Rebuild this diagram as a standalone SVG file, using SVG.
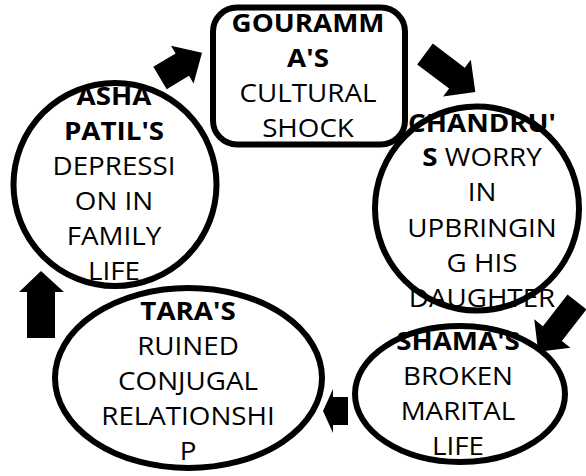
<svg xmlns="http://www.w3.org/2000/svg" width="586" height="476" viewBox="0 0 586 476">
<style>
.shape{fill:none;stroke:#000;stroke-width:6}
.t{font-family:"Open Sans","Liberation Sans",sans-serif;font-size:25px;fill:#000;text-anchor:middle}
.b{font-weight:bold}
.arr{fill:#000;stroke:none}
</style>
<rect width="586" height="476" fill="#fff"/>
<g id="gouramma">
<rect class="shape" x="213" y="7.5" width="192" height="137" rx="24"/>
<text class="t" transform="matrix(1.11 0 0 1 308 0)"><tspan class="b" x="0" y="32">GOURAMM</tspan><tspan class="b" x="0" y="67">A'S</tspan><tspan x="0" y="102">CULTURAL</tspan><tspan x="0" y="137">SHOCK</tspan></text>
</g>
<g id="chandru">
<circle class="shape" cx="477" cy="208.5" r="102"/>
<text class="t" transform="matrix(1.11 0 0 1 482 0)"><tspan class="b" x="0" y="132">CHANDRU'</tspan><tspan x="0" y="166"><tspan class="b">S</tspan> WORRY</tspan><tspan x="0" y="201">IN</tspan><tspan x="0" y="237">UPBRINGIN</tspan><tspan x="0" y="272">G HIS</tspan><tspan x="0" y="307">DAUGHTER</tspan></text>
</g>
<g id="shama">
<ellipse class="shape" cx="460" cy="394" rx="105" ry="68"/>
<text class="t" transform="matrix(1.11 0 0 1 458 0)"><tspan class="b" x="0" y="350">SHAMA'S</tspan><tspan x="0" y="385">BROKEN</tspan><tspan x="0" y="420">MARITAL</tspan><tspan x="0" y="455">LIFE</tspan></text>
</g>
<g id="tara">
<ellipse class="shape" cx="188.5" cy="378" rx="133.5" ry="90"/>
<text class="t" transform="matrix(1.11 0 0 1 188 0)"><tspan class="b" x="0" y="320">TARA'S</tspan><tspan x="0" y="355">RUINED</tspan><tspan x="0" y="390">CONJUGAL</tspan><tspan x="0" y="425">RELATIONSHI</tspan><tspan x="0" y="460">P</tspan></text>
</g>
<g id="asha">
<circle class="shape" cx="115" cy="184.5" r="101.5"/>
<text class="t" transform="matrix(1.11 0 0 1 114 0)"><tspan class="b" x="0" y="105">ASHA</tspan><tspan class="b" x="0" y="140">PATIL'S</tspan><tspan x="0" y="175">DEPRESSI</tspan><tspan x="0" y="210">ON IN</tspan><tspan x="0" y="245">FAMILY</tspan><tspan x="0" y="280">LIFE</tspan></text>
</g>
<g id="connectors">
<polygon class="arr" transform="translate(160,78) rotate(-31)" points="0,-13 26,-13 26,-22 49,0 26,22 26,13 0,13"/>
<polygon class="arr" transform="translate(425,54) rotate(37)" points="0,-13 40,-13 40,-23 63,0 40,23 40,13 0,13"/>
<polygon class="arr" transform="translate(577,302) rotate(128)" points="0,-12 40,-12 40,-23 63,0 40,23 40,12 0,12"/>
<polygon class="arr" points="348,397 333,397 333,389 323,411 333,433 333,425 348,425"/>
<polygon class="arr" points="27,338 27,292 19,292 41,271 64,292 55,292 55,338"/>
</g>
</svg>
